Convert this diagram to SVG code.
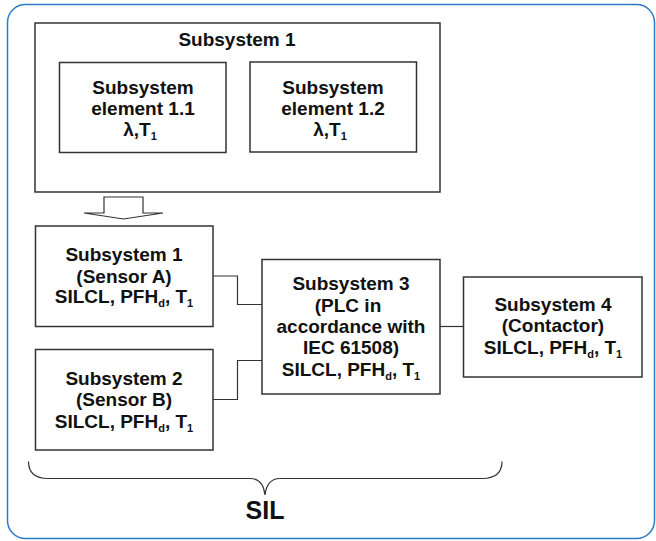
<svg xmlns="http://www.w3.org/2000/svg" width="656" height="541" viewBox="0 0 656 541">
<style>
.box{fill:#fff;stroke:#333;stroke-width:1.5}
.ln{fill:none;stroke:#333;stroke-width:1.2}
text{font-family:"Liberation Sans",Arial,sans-serif;font-weight:bold;font-size:19px;fill:#111;text-anchor:middle}
.sub{font-size:11px}
</style>
<rect x="7.5" y="4.5" width="647" height="534" rx="18" fill="#fff" stroke="#2a7cc7" stroke-width="1.5"/>
<g id="connectors">
<line class="ln" x1="35" y1="107.5" x2="59" y2="107.5"/>
<line class="ln" x1="226" y1="107.5" x2="250" y2="107.5"/>
<line class="ln" x1="417" y1="107.5" x2="440" y2="107.5"/>
<polyline class="ln" points="213,276 237.5,276 237.5,304.5 262,304.5"/>
<polyline class="ln" points="213,399.5 237.5,399.5 237.5,360.5 262,360.5"/>
<line class="ln" x1="440" y1="326.5" x2="463.5" y2="326.5"/>
<polygon class="ln" points="104,197 143,197 143,213 163,213 123.5,219 84,213 104,213"/>
<path class="ln" d="M28.5,461.5 Q28.5,478.5 48,478.5 L250,478.5 Q263,478.5 265,495 Q267,478.5 280,478.5 L482,478.5 Q502,478.5 502,461.5"/>
</g>
<g id="subsystem1">
<rect class="box" x="35" y="23" width="405" height="169"/>
<text x="237" y="46">Subsystem 1</text>
</g>
<g id="element11">
<rect class="box" x="59.5" y="62.5" width="166.5" height="90"/>
<text x="143" y="94">Subsystem</text>
<text x="143" y="115">element 1.1</text>
<text x="140" y="136">λ,T<tspan class="sub" dy="4">1</tspan></text>
</g>
<g id="element12">
<rect class="box" x="250" y="62" width="166.5" height="90"/>
<text x="333" y="94">Subsystem</text>
<text x="333" y="115">element 1.2</text>
<text x="330" y="136">λ,T<tspan class="sub" dy="4">1</tspan></text>
</g>
<g id="sensorA">
<rect class="box" x="35.5" y="226" width="177.5" height="100.5"/>
<text x="124" y="261">Subsystem 1</text>
<text x="124" y="282.5">(Sensor A)</text>
<text x="124" y="303">SILCL, PFH<tspan class="sub" dy="4">d</tspan><tspan dy="-4">, T</tspan><tspan class="sub" dy="4">1</tspan></text>
</g>
<g id="sensorB">
<rect class="box" x="35.5" y="349.5" width="177.5" height="100.5"/>
<text x="124" y="384.5">Subsystem 2</text>
<text x="124" y="406">(Sensor B)</text>
<text x="124" y="427.5">SILCL, PFH<tspan class="sub" dy="4">d</tspan><tspan dy="-4">, T</tspan><tspan class="sub" dy="4">1</tspan></text>
</g>
<g id="plc">
<rect class="box" x="262" y="259.5" width="178" height="134.5"/>
<text x="351" y="290">Subsystem 3</text>
<text x="348" y="311.5">(PLC in</text>
<text x="351" y="332.5">accordance with</text>
<text x="351" y="354">IEC 61508)</text>
<text x="351" y="375.5">SILCL, PFH<tspan class="sub" dy="4">d</tspan><tspan dy="-4">, T</tspan><tspan class="sub" dy="4">1</tspan></text>
</g>
<g id="contactor">
<rect class="box" x="463.5" y="277" width="178.5" height="100"/>
<text x="553" y="310.5">Subsystem 4</text>
<text x="553" y="332">(Contactor)</text>
<text x="553" y="353.5">SILCL, PFH<tspan class="sub" dy="4">d</tspan><tspan dy="-4">, T</tspan><tspan class="sub" dy="4">1</tspan></text>
</g>
<g id="sil">
<text x="265" y="519" style="font-size:25px">SIL</text>
</g>
</svg>
